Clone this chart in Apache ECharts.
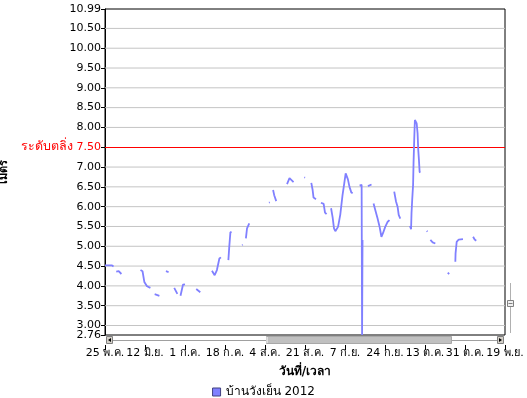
<!DOCTYPE html>
<html>
<head>
<meta charset="utf-8">
<script src="https://cdn.jsdelivr.net/npm/echarts@6/dist/echarts.min.js"></script>
<style>html,body{margin:0;padding:0;background:#fff}#c{width:527px;height:398px}</style>
</head>
<body>
<div id="c"></div>
<script>
// X tick labels (one every tick, ticks evenly spaced over the axis)
const tickLabels = ['25 พ.ค.','12 มิ.ย.','1 ก.ค.','18 ก.ค.','4 ส.ค.','21 ส.ค.','7 ก.ย.','24 ก.ย.','13 ต.ค.','31 ต.ค.','19 พ.ย.'];
// Y tick values shown on the axis
const yTicks = [3.00,3.50,4.00,4.50,5.00,5.50,6.00,6.50,7.00,7.50,8.00,8.50,9.00,9.50,10.00,10.50,10.99];
const yMinTick = [2.76];
const seriesName = 'บ้านวังเย็น 2012';
const bankLevel = 7.5;
const bankLabel = 'ระดับตลิ่ง';
const yMin = 2.76, yMax = 10.99;
const xSpanDays = 178;
// days since first tick; null level = gap in record
const days = [
  0.0,3.0,3.8,4,
  5.0,6.1,7.3,8,
  15.8,16.7,17.5,18.7,20.2,21,
  22.1,24.2,25,
  27.1,28.3,29,
  30.8,32.2,33,
  33.6,34.7,35.6,36,
  40.6,42.4,43,
  47.6,48.8,49.8,50.9,51.6,52,
  54.9,55.3,55.8,56.3,57,
  61.0,61.3,62,
  62.7,63.2,64.2,65,
  73.0,73.3,74,
  74.8,75.3,76.2,77,
  81.0,82.1,83.9,85,
  88.7,89.0,90,
  91.8,92.4,92.8,93.9,95,
  96.1,97.3,97.9,98.6,99,
  100.6,101.3,101.9,102.5,103.2,103.7,104.7,105.7,106.5,107.1,107.7,108.1,108.8,109.6,110.2,111,
  113.3,114.2,114.4,114.6,115,
  117.0,118.6,119,
  119.5,120.3,121.3,122.2,123.0,123.7,124.7,125.8,126.6,127,
  128.7,129.5,130.2,130.7,131.4,132,
  135.7,136.2,136.4,136.7,137.1,137.3,137.6,137.9,138.4,138.7,139.1,139.4,139.7,140.0,140.3,141,
  143.2,143.5,144,
  144.8,145.8,147.0,148,
  152.5,153.2,154,
  155.9,156.0,156.5,157.4,159.3,160,
  161.0,161.3,162,
  163.8,164.5,165.2
];
const levels = [
  4.52,4.52,4.49,null,
  4.36,4.37,4.30,null,
  4.40,4.37,4.10,3.99,3.95,null,
  3.79,3.75,null,
  4.37,4.35,null,
  3.95,3.80,null,
  3.75,4.03,4.04,null,
  3.92,3.84,null,
  4.38,4.27,4.40,4.69,4.72,null,
  4.65,4.99,5.35,5.37,null,
  5.03,5.04,null,
  5.20,5.45,5.58,null,
  6.10,6.11,null,
  6.42,6.29,6.14,null,
  6.57,6.72,6.62,null,
  6.74,6.73,null,
  6.60,6.42,6.23,6.19,null,
  6.10,6.07,5.85,5.81,null,
  5.96,5.73,5.45,5.38,5.37,5.49,5.80,6.29,6.60,6.84,6.82,6.69,6.50,6.36,6.34,null,
  6.53,6.55,2.76,5.16,null,
  6.52,6.56,null,
  6.08,5.91,5.70,5.49,5.24,5.33,5.49,5.62,5.66,null,
  6.38,6.13,6.00,5.79,5.70,null,
  5.51,5.43,5.84,6.17,6.55,7.10,7.68,8.19,8.14,8.10,7.85,7.43,7.18,6.88,6.86,null,
  5.39,5.37,null,
  5.16,5.10,5.07,null,
  4.33,4.30,null,
  4.61,4.82,5.11,5.17,5.18,null,
  5.24,5.24,null,
  5.24,5.17,5.14
];

const FONT = 'DejaVu Sans';
const chart = echarts.init(document.getElementById('c'), null, {renderer: 'canvas'});
const data = days.map((d, i) => [d, levels[i] == null ? '-' : levels[i]]);
const GL = 105, GT = 9, GW = 400, GH = 326;
const gridData = yTicks.filter(v => v < yMax && v !== bankLevel)
  .flatMap(v => [[0, v], [xSpanDays, v], [xSpanDays, '-']]);
const yLabelFmt = v => Math.abs(v - bankLevel) < 1e-6 ? '{t|' + bankLabel + '}{r| ' + v.toFixed(2) + '}' : v.toFixed(2);

chart.setOption({
  animation: false,
  backgroundColor: '#fff',
  textStyle: {fontFamily: FONT},
  grid: {left: GL, top: GT, width: GW, height: GH, show: true, borderColor: '#000', borderWidth: 1,
         backgroundColor: 'transparent', containLabel: false, outerBoundsMode: 'none'},
  xAxis: {
    type: 'value', min: 0, max: xSpanDays, interval: xSpanDays / 10,
    offset: 10,
    name: 'วันที่/เวลา', nameLocation: 'middle', nameGap: 21,
    nameTextStyle: {fontFamily: FONT, fontSize: 12, fontWeight: 'bold', color: '#000'},
    axisLine: {show: false},
    axisTick: {show: true, length: 5, lineStyle: {color: '#000'}},
    axisLabel: {
      color: '#000', fontFamily: FONT, fontSize: 11, margin: 3, interval: 0,
      showMinLabel: true, showMaxLabel: true, hideOverlap: false,
      formatter: v => tickLabels[Math.round(v / (xSpanDays / 10))] || ''
    },
    splitLine: {show: false}
  },
  yAxis: [{
    type: 'value', min: yMin, max: yMax, position: 'left',
    name: 'เมตร', nameLocation: 'middle', nameGap: 90,
    nameTextStyle: {fontFamily: FONT, fontSize: 11, fontWeight: 'bold', color: '#000'},
    axisLine: {show: true, lineStyle: {color: '#000'}},
    axisTick: {show: true, length: 4, customValues: yTicks, lineStyle: {color: '#000'}},
    axisLabel: {
      color: '#000', fontFamily: FONT, fontSize: 11, margin: 4, customValues: yTicks,
      showMinLabel: true, showMaxLabel: true, hideOverlap: false,
      formatter: yLabelFmt,
      rich: {
        t: {color: '#ff0000', fontFamily: FONT, fontSize: 12.5},
        r: {color: '#ff0000', fontFamily: FONT, fontSize: 11}
      }
    },
    splitLine: {show: false}
  }, {
    type: 'value', min: yMin, max: yMax, position: 'left',
    axisLine: {show: false},
    axisTick: {show: true, length: 4, customValues: yMinTick, lineStyle: {color: '#000'}},
    axisLabel: {color: '#000', fontFamily: FONT, fontSize: 11, margin: 4, customValues: yMinTick,
      showMinLabel: true, showMaxLabel: true, formatter: v => v.toFixed(2)},
    splitLine: {show: false}
  }],
  legend: {
    top: 381, left: 'center', icon: 'rect', itemWidth: 8, itemHeight: 8, itemGap: 6,
    textStyle: {fontFamily: FONT, fontSize: 12, color: '#000'},
    data: [{name: seriesName, itemStyle: {color: '#8080ff', borderColor: '#404080', borderWidth: 1}}]
  },
  series: [{
    name: 'grid', type: 'line', data: gridData, yAxisIndex: 0, showSymbol: false, silent: true,
    connectNulls: false, z: 3, lineStyle: {color: '#c4c4c4', width: 1}, emphasis: {disabled: true}, tooltip: {show: false}
  }, {
    name: seriesName, type: 'line', data: data, yAxisIndex: 0, showSymbol: false, connectNulls: false,
    color: '#8080ff', z: 3,
    lineStyle: {color: '#8080ff', width: 1.8},
    markLine: {
      silent: true, symbol: 'none', label: {show: false}, z: 1,
      lineStyle: {color: '#ff0000', width: 1, type: 'solid'},
      data: [{yAxis: bankLevel}]
    }
  }],
  graphic: [
    // horizontal scrollbar under the plot
    {type: 'line', silent: true, shape: {x1: 113, y1: 340.5, x2: 498, y2: 340.5}, style: {stroke: '#a0a0a0', lineWidth: 1}},
    {type: 'rect', silent: true, shape: {x: 106.5, y: 336.5, width: 6, height: 7}, style: {fill: '#d4d0c8', stroke: '#808080', lineWidth: 1}},
    {type: 'polygon', silent: true, shape: {points: [[108, 340], [111, 338], [111, 342]]}, style: {fill: '#000'}},
    {type: 'rect', silent: true, shape: {x: 266.5, y: 336.5, width: 185, height: 7}, style: {fill: '#c0c0c0', stroke: '#a8a8a8', lineWidth: 1}},
    {type: 'line', silent: true, shape: {x1: 267, y1: 337, x2: 267, y2: 343}, style: {stroke: '#ffffff', lineWidth: 1}},
    {type: 'rect', silent: true, shape: {x: 497.5, y: 336.5, width: 6, height: 7}, style: {fill: '#d4d0c8', stroke: '#808080', lineWidth: 1}},
    {type: 'polygon', silent: true, shape: {points: [[502, 340], [499, 338], [499, 342]]}, style: {fill: '#000'}},
    // vertical scroll stub on the right
    {type: 'line', silent: true, shape: {x1: 510.5, y1: 283, x2: 510.5, y2: 333}, style: {stroke: '#b0b0b0', lineWidth: 1}},
    {type: 'rect', silent: true, shape: {x: 507.5, y: 300.5, width: 6, height: 6}, style: {fill: '#f0f0f0', stroke: '#808080', lineWidth: 1}},
    {type: 'line', silent: true, shape: {x1: 508.5, y1: 303.5, x2: 512.5, y2: 303.5}, style: {stroke: '#808080', lineWidth: 1}}
  ]
});
</script>
</body>
</html>
